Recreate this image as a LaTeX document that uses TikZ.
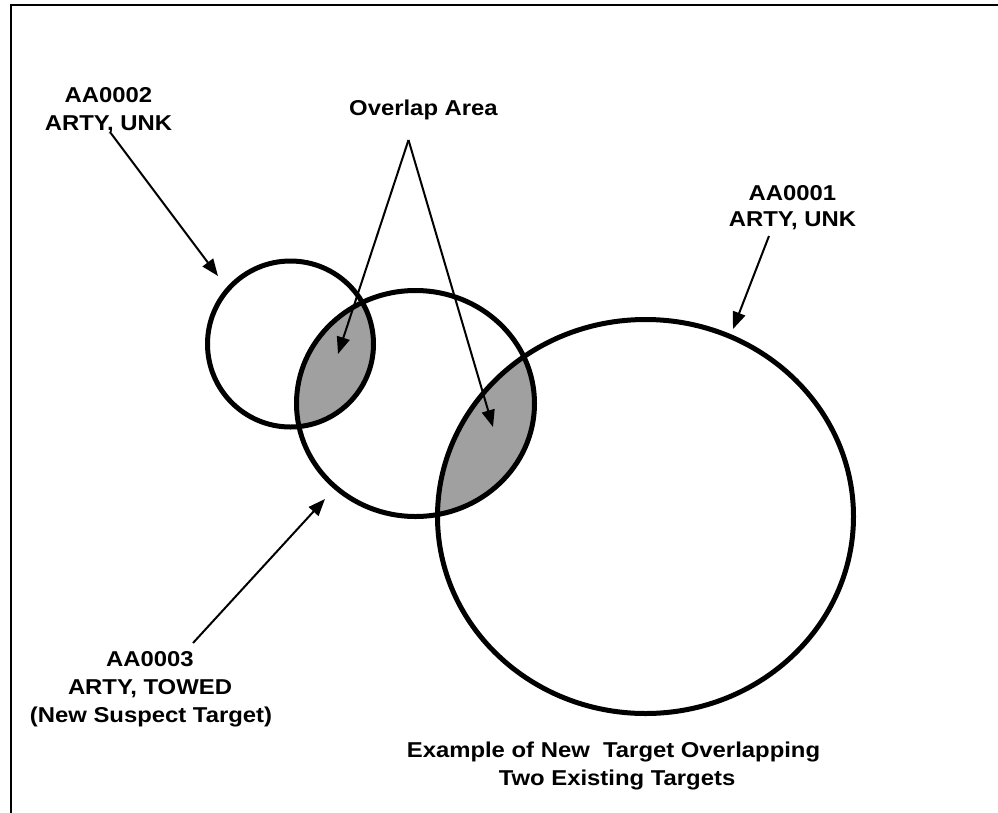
\documentclass[tikz,border=0pt]{standalone}
\usepackage{fontspec}
\newfontfamily\labfont[FakeStretch=1.11]{Liberation Sans}
\usetikzlibrary{arrows.meta,shapes.geometric}
\begin{document}
\begin{tikzpicture}[x=1pt,y=-1pt,
  lbl/.style={anchor=base,inner sep=0pt,font=\labfont\bfseries\fontsize{21.5}{27.5}\selectfont},
  ring/.style={draw=black,line width=5pt},
  ptr/.style={draw=black,line width=2pt,-{Triangle[length=17pt,width=13pt]}},
  overlapfill/.style={fill={rgb,255:red,160;green,160;blue,160}}]
\useasboundingbox (0,0) rectangle (998,812);
\draw[line width=2.5pt] (11,813) -- (11,5) -- (999,5);

% overlap fills
\begin{scope}
  \clip (290.5,344) circle[radius=83];
  \fill[overlapfill] (415.5,403.5) ellipse[x radius=119,y radius=113];
\end{scope}
\begin{scope}
  \clip (415.5,403.5) ellipse[x radius=119,y radius=113];
  \fill[overlapfill] (645.5,516.5) ellipse[x radius=208,y radius=197];
\end{scope}

% circles
\node[ring,circle,minimum size=166pt,inner sep=0pt] (c2) at (290.5,344) {};
\node[ring,ellipse,minimum width=238pt,minimum height=226pt,inner sep=0pt] (c3) at (415.5,403.5) {};
\node[ring,ellipse,minimum width=416pt,minimum height=394pt,inner sep=0pt] (c1) at (645.5,516.5) {};

% labels
\node[lbl] (t2a) at (108.5,102.7) {AA0002};
\node[lbl] (t2b) at (108.5,130.7) {ARTY, UNK};
\node[lbl] (tov) at (423.5,115.2) {Overlap Area};
\node[lbl] (t1a) at (792.5,200.2) {AA0001};
\node[lbl] (t1b) at (792.5,226.7) {ARTY, UNK};
\node[lbl] (t3a) at (150,666.7) {AA0003};
\node[lbl] (t3b) at (150,694.7) {ARTY, TOWED};
\node[lbl] (t3c) at (151,722.7) {(New Suspect Target)};
\node[lbl] (tea) at (613.5,757.7) {Example of New~ Target Overlapping};
\node[lbl] (teb) at (617,785.2) {Two Existing Targets};

% arrow endpoints
\coordinate (s2) at (110.7,133);
\coordinate (e2) at (218,276);
\coordinate (apex) at (408.5,140);
\coordinate (eo1) at (338,354);
\coordinate (eo2) at (493,427);
\coordinate (s1) at (769,236);
\coordinate (e1) at (733,329);
\coordinate (s3) at (193,643);
\coordinate (e3) at (325,499);

\draw[ptr] (s2) -- (e2);
\draw[ptr] (apex) -- (eo1);
\draw[ptr] (apex) -- (eo2);
\draw[ptr] (s1) -- (e1);
\draw[ptr] (s3) -- (e3);
\end{tikzpicture}
\end{document}
